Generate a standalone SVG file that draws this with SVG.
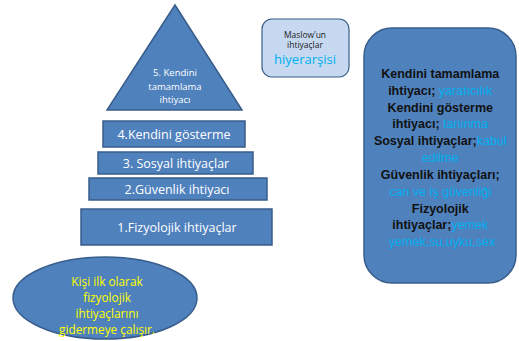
<svg xmlns="http://www.w3.org/2000/svg" width="519" height="341" viewBox="0 0 519 341">
<style>
.sh{fill:#4f81bd;stroke:#385d8a;stroke-width:1.5}
.t{font-family:"Open Sans","Liberation Sans",sans-serif;fill:#fff;text-anchor:middle}
.r{font-family:"Liberation Sans",sans-serif;font-weight:bold;font-size:12.5px;fill:#111;text-anchor:middle}
.c{fill:#00b0f0;font-weight:normal}
.y{font-family:"Open Sans","Liberation Sans",sans-serif;fill:#ffff00;text-anchor:middle;font-size:11.8px}
</style>
<rect width="519" height="341" fill="#fff"/>
<g id="level5">
<polygon class="sh" points="175,5 107,110 242,110"/>
<text class="t" font-size="9.5"><tspan x="175" y="76">5. Kendini</tspan><tspan x="175" y="90">tamamlama</tspan><tspan x="175" y="103">ihtiyacı</tspan></text>
</g>
<g id="level4">
<rect class="sh" x="103" y="121" width="142" height="26"/>
<text class="t" x="174" y="139" font-size="12.5">4.Kendini gösterme</text>
</g>
<g id="level3">
<rect class="sh" x="98" y="152" width="155" height="22"/>
<text class="t" x="176" y="168" font-size="12.5">3. Sosyal ihtiyaçlar</text>
</g>
<g id="level2">
<rect class="sh" x="89" y="178" width="178" height="22"/>
<text class="t" x="177" y="194" font-size="12.5">2.Güvenlik ihtiyacı</text>
</g>
<g id="level1">
<rect class="sh" x="81" y="209" width="191" height="36"/>
<text class="t" x="177" y="232" font-size="12.5">1.Fizyolojik ihtiyaçlar</text>
</g>
<g id="title">
<rect x="262" y="19" width="87" height="58" rx="10" fill="#c6d9f1" stroke="#385d8a" stroke-width="1.2"/>
<text class="t" font-size="8.5" style="fill:#222"><tspan x="305" y="38">Maslow’un</tspan><tspan x="305" y="48">ihtiyaçlar</tspan></text>
<text class="t" x="305" y="64" font-size="13" style="fill:#00b0f0">hiyerarşisi</text>
</g>
<g id="legend">
<rect class="sh" x="364" y="28" width="152" height="255" rx="28"/>
<text class="r">
<tspan x="442" y="78">Kendini tamamlama</tspan>
<tspan x="442" y="95">ihtiyacı; <tspan class="c">yaratıcılık</tspan></tspan>
<tspan x="442" y="112">Kendini gösterme</tspan>
<tspan x="442" y="128">ihtiyacı; <tspan class="c">tanınma</tspan></tspan>
<tspan x="442" y="145">Sosyal ihtiyaçlar;<tspan class="c">kabul</tspan></tspan>
<tspan x="442" y="162" class="c">edilme</tspan>
<tspan x="442" y="179">Güvenlik ihtiyaçları;</tspan>
<tspan x="442" y="196" class="c">can ve iş güvenliği</tspan>
<tspan x="442" y="213">Fizyolojik</tspan>
<tspan x="442" y="229">ihtiyaçlar;<tspan class="c">yemek</tspan></tspan>
<tspan x="442" y="246" class="c">yemek,su,uyku,sex</tspan>
</text>
</g>
<g id="note">
<ellipse class="sh" cx="105" cy="298" rx="92" ry="41"/>
<text class="y"><tspan x="107" y="286">Kişi ilk olarak</tspan><tspan x="107" y="302">fizyolojik</tspan><tspan x="107" y="318">ihtiyaçlarını</tspan><tspan x="107" y="334">gidermeye çalışır.</tspan></text>
</g>
<g id="connectors"></g>
</svg>
